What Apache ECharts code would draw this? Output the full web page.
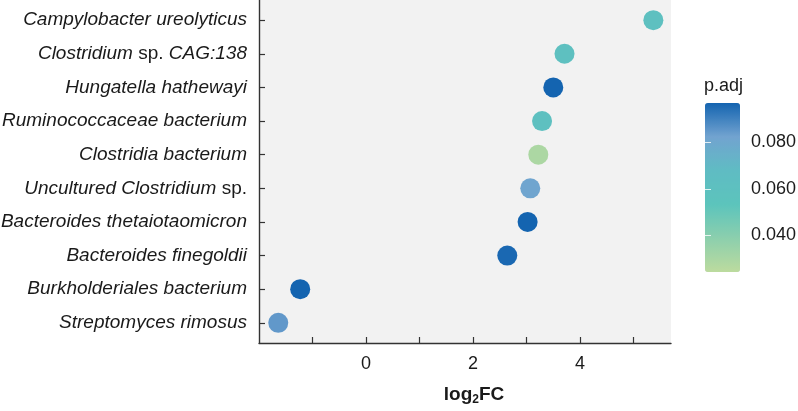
<!DOCTYPE html>
<html>
<head>
<meta charset="utf-8">
<script src="https://cdn.jsdelivr.net/npm/echarts@6/dist/echarts.min.js"></script>
<style>
  html, body { margin: 0; padding: 0; background: #fff; }
  #chart { width: 798px; height: 411px; }
</style>
</head>
<body>
<div id="chart"></div>
<script>
// species, top to bottom
var species = [
  'Campylobacter ureolyticus',
  'Clostridium sp. CAG:138',
  'Hungatella hathewayi',
  'Ruminococcaceae bacterium',
  'Clostridia bacterium',
  'Uncultured Clostridium sp.',
  'Bacteroides thetaiotaomicron',
  'Bacteroides finegoldii',
  'Burkholderiales bacterium',
  'Streptomyces rimosus'
]
var log2FC = [5.37, 3.71, 3.50, 3.29, 3.22, 3.07, 3.02, 2.64, -1.23, -1.64]
var pAdj = [0.061, 0.061, 0.097, 0.061, 0.029, 0.081, 0.097, 0.096, 0.097, 0.085]

var xTicks = [-1, 0, 1, 2, 3, 4, 5]
var xLabels = [0, 2, 4]
var pTicks = [0.04, 0.06, 0.08]
var pMin = 0.0241
var pMax = 0.097

var font = '"Liberation Sans", Arial, Helvetica, sans-serif'

// italic species names, but "sp." stays upright
function speciesLabel (idx) {
  var name = species[idx]
  if (name === undefined) return ''
  return name.split(' ').map(function (w) {
    return w === 'sp.' ? '{n|' + w + '}' : '{i|' + w + '}'
  }).join('{n| }')
}

var points = []
log2FC.forEach(function (v, i) {
  points.push([v, i, pAdj[i]])
})
var rows = species.map(function (s, i) { return i })

var chart = echarts.init(document.getElementById('chart'))
var option = {
  animation: false,
  title: {
    text: 'p.adj',
    left: 704,
    top: 77,
    padding: 0,
    textStyle: { fontFamily: font, fontSize: 18, fontWeight: 'normal', color: '#1a1a1a' }
  },
  grid: [
    {
      left: 259, right: 127, top: 0, bottom: 68,
      outerBoundsMode: 'none',
      show: true, backgroundColor: '#f2f2f2', borderWidth: 0
    },
    { left: 705, top: 103, width: 35, height: 169, z: 10, outerBoundsMode: 'none' }
  ],
  xAxis: [
    {
      type: 'value',
      min: -2,
      max: 5.7,
      interval: 1,
      splitLine: { show: false },
      axisLine: { onZero: false, lineStyle: { color: '#333', width: 1.4 } },
      axisTick: { inside: true, length: 6, customValues: xTicks, lineStyle: { color: '#333', width: 1.2 } },
      axisLabel: {
        customValues: xLabels,
        margin: 12,
        fontFamily: font, fontSize: 18, color: '#1a1a1a'
      },
      name: '{b|log}{s|2}{b|FC}',
      nameLocation: 'middle',
      nameGap: 40,
      nameTextStyle: {
        padding: [0, 0, 0, 18],
        rich: {
          b: { fontFamily: font, fontSize: 19, fontWeight: 'bold', color: '#1a1a1a' },
          s: { fontFamily: font, fontSize: 12, fontWeight: 'bold', color: '#1a1a1a', padding: [11, 0, 0, 0] }
        }
      }
    },
    { gridIndex: 1, type: 'value', show: false }
  ],
  yAxis: [
    {
      type: 'value',
      inverse: true,
      min: -0.6,
      max: 9.6,
      splitLine: { show: false },
      axisLine: { onZero: false, lineStyle: { color: '#333', width: 1.4 } },
      axisTick: { inside: true, length: 6, customValues: rows, lineStyle: { color: '#333', width: 1.2 } },
      axisLabel: {
        customValues: rows,
        margin: 12,
        formatter: function (v) { return speciesLabel(Math.round(v)) },
        rich: {
          i: { fontFamily: font, fontSize: 19, fontStyle: 'italic', color: '#1a1a1a' },
          n: { fontFamily: font, fontSize: 19, color: '#1a1a1a' }
        }
      }
    },
    {
      gridIndex: 1, type: 'value', position: 'right', min: pMin, max: pMax, z: 10,
      splitLine: { show: false },
      axisLine: { show: false },
      axisTick: { inside: true, length: 6, customValues: pTicks, lineStyle: { color: '#fff', width: 1, opacity: 0.8 } },
      axisLabel: {
        customValues: pTicks,
        margin: 11,
        formatter: function (v) { return v.toFixed(3) },
        fontFamily: font, fontSize: 18, color: '#1a1a1a'
      }
    },
    {
      gridIndex: 1, type: 'value', position: 'left', min: pMin, max: pMax, z: 10,
      splitLine: { show: false },
      axisLine: { show: false },
      axisTick: { inside: true, length: 6, customValues: pTicks, lineStyle: { color: '#fff', width: 1, opacity: 0.8 } },
      axisLabel: { show: false }
    }
  ],
  visualMap: {
    type: 'continuous',
    dimension: 2,
    seriesIndex: 0,
    min: pMin,
    max: pMax,
    calculable: false,
    showLabel: false,
    text: null,
    left: 705,
    top: 103,
    padding: 0,
    itemWidth: 35,
    itemHeight: 169,
    inRange: {
      color: ['#bcdb9e', '#8ccfad', '#5cc4bc', '#5fbcc3', '#72a3d0', '#1464b0']
    }
  },
  series: [
    {
      type: 'scatter',
      xAxisIndex: 0,
      yAxisIndex: 0,
      symbolSize: 20,
      itemStyle: { opacity: 1 },
      data: points
    }
  ]
}
chart.setOption(option)
</script>
</body>
</html>
